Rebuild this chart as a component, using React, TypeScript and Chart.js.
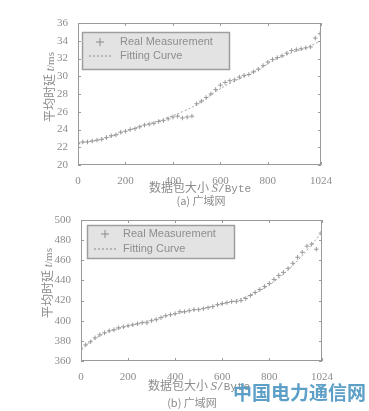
import React, { useEffect, useRef } from "react";
import { Chart, registerables } from "chart.js";

Chart.register(...registerables);

// ---------- data ----------
const xTickValues = [0, 200, 400, 600, 800, 1024];

const aYTickMin = 20;
const aYTickMax = 36;
const aYTickStep = 2;

const bYTickMin = 360;
const bYTickMax = 500;
const bYTickStep = 20;

const measSizes = [
  0, 20, 40, 60, 80, 100, 120, 140, 160, 180, 200, 220, 240, 260, 280, 300, 320, 340,
  360, 380, 400, 420, 440, 460, 480, 500, 520, 540, 560, 580, 600, 620, 640, 660, 680,
  700, 720, 740, 760, 780, 800, 820, 840, 860, 880, 900, 920, 940, 960, 980, 1000, 1020,
];

const aMeasured = [
  22.4, 22.6, 22.6, 22.7, 22.8, 22.9, 23.1, 23.3, 23.4, 23.7, 23.8, 24.0, 24.1, 24.3,
  24.5, 24.6, 24.7, 24.9, 25.0, 25.2, 25.4, 25.5, 25.3, 25.4, 25.5, 26.9, 27.2, 27.6,
  28.0, 28.5, 29.0, 29.3, 29.5, 29.6, 29.9, 30.1, 30.2, 30.5, 30.8, 31.2, 31.6, 31.9,
  32.1, 32.3, 32.6, 32.9, 33.0, 33.1, 33.2, 33.3, 34.3, 34.8,
];

const bMeasured = [
  372, 376, 379, 383, 386, 388, 390, 391, 393, 394, 395, 396, 397, 398, 398, 400, 401,
  403, 405, 406, 407, 409, 409, 410, 411, 411, 412, 413, 414, 416, 417, 418, 419, 419,
  420, 422, 425, 428, 431, 434, 437, 441, 445, 448, 452, 457, 463, 468, 474, 476, 471, 487,
];

const fitSizes = [0, 64, 128, 192, 256, 320, 384, 448, 512, 576, 640, 704, 768, 832, 896, 960, 1024];
const aFit = [22.5, 22.7, 23.1, 23.7, 24.3, 24.8, 25.4, 26.1, 27.0, 28.2, 29.2, 30.0, 30.9, 31.9, 32.6, 33.2, 34.0];
const bFit = [372, 383, 390, 394, 398, 402, 406, 409, 412, 415, 419, 424, 431, 441, 454, 470, 488];

const legendLabels = ["Real Measurement", "Fitting Curve"];

// ---------- styles ----------
const GRAY = "#8c8c8c";
const AXIS = "#9a9a9a";
const SERIF = "'Liberation Serif', 'DejaVu Serif', serif";
const SANS = "'Liberation Sans', Arial, sans-serif";
const CJK = "'Noto Sans CJK SC', sans-serif";

const framePlugin = {
  id: "matlabFrame",
  afterDatasetsDraw(chart: any, _args: any, opts: any) {
    const { ctx, chartArea: a, scales } = chart;
    ctx.save();
    ctx.strokeStyle = AXIS;
    ctx.lineWidth = 1;
    ctx.strokeRect(Math.round(a.left) + 0.5, Math.round(a.top) + 0.5, Math.round(a.width) - 1, Math.round(a.height) - 1);
    ctx.beginPath();
    scales.x.ticks.forEach((t: any) => {
      const px = Math.round(scales.x.getPixelForValue(t.value)) + 0.5;
      ctx.moveTo(px, a.bottom);
      ctx.lineTo(px, a.bottom - 3);
      ctx.moveTo(px, a.top);
      ctx.lineTo(px, a.top + 3);
    });
    scales.y.ticks.forEach((t: any) => {
      const py = Math.round(scales.y.getPixelForValue(t.value)) + 0.5;
      ctx.moveTo(a.left, py);
      ctx.lineTo(a.left + 3, py);
      ctx.moveTo(a.right, py);
      ctx.lineTo(a.right - 3, py);
    });
    ctx.stroke();

    // legend box
    const lx = a.left + opts.dx;
    const ly = a.top + opts.dy;
    ctx.fillStyle = "#e3e3e3";
    ctx.fillRect(lx, ly, opts.w, opts.h);
    ctx.strokeStyle = "#9e9e9e";
    ctx.lineWidth = 1.5;
    ctx.strokeRect(lx + 0.5, ly + 0.5, opts.w - 1, opts.h - 1);
    const ds = chart.data.datasets;
    const r1 = ly + opts.row1;
    const r2 = ly + opts.row2;
    ctx.strokeStyle = "#8a8a8a";
    ctx.lineWidth = 1;
    ctx.beginPath();
    const mx = lx + 18;
    ctx.moveTo(mx - 4, r1);
    ctx.lineTo(mx + 4, r1);
    ctx.moveTo(mx, r1 - 4);
    ctx.lineTo(mx, r1 + 4);
    ctx.stroke();
    ctx.setLineDash([2, 2]);
    ctx.beginPath();
    ctx.moveTo(lx + 7, r2);
    ctx.lineTo(lx + 30, r2);
    ctx.stroke();
    ctx.setLineDash([]);
    ctx.fillStyle = "#8e8e8e";
    ctx.font = `11px ${SANS}`;
    ctx.textBaseline = "middle";
    ctx.fillText(ds[0].label, lx + opts.tx, r1);
    ctx.fillText(ds[1].label, lx + opts.tx, r2);
    ctx.restore();
  },
};

function makeConfig(
  measured: number[],
  fit: number[],
  yMin: number,
  yMax: number,
  yStep: number,
  padding: any,
  legendOpts: any
): any {
  return {
    type: "scatter",
    data: {
      datasets: [
        {
          label: legendLabels[0],
          data: measSizes.map((s, i) => ({ x: s, y: measured[i] })),
          showLine: false,
          pointStyle: "cross",
          pointRadius: 2.3,
          borderColor: "#9a9a9a",
          borderWidth: 1,
        },
        {
          label: legendLabels[1],
          data: fitSizes.map((s, i) => ({ x: s, y: fit[i] })),
          showLine: true,
          pointRadius: 0,
          borderColor: "#a2a2a2",
          borderWidth: 1,
          borderDash: [2, 2],
          tension: 0.4,
        },
      ],
    },
    options: {
      animation: false,
      responsive: false,
      devicePixelRatio: 1,
      layout: { padding },
      plugins: {
        legend: { display: false },
        tooltip: { enabled: false },
        matlabFrame: legendOpts,
      },
      scales: {
        x: {
          type: "linear",
          min: 0,
          max: 1024,
          afterBuildTicks: (s: any) => {
            s.ticks = xTickValues.map((v) => ({ value: v }));
          },
          afterFit: (s: any) => {
            s.height = 20;
          },
          grid: { display: false },
          border: { display: false },
          ticks: {
            color: GRAY,
            font: { family: SERIF, size: 11 },
            padding: 2,
            maxRotation: 0,
            autoSkip: false,
            callback: (v: any) => String(v),
          },
        },
        y: {
          type: "linear",
          min: yMin,
          max: yMax,
          afterFit: (s: any) => {
            s.width = 30;
          },
          grid: { display: false },
          border: { display: false },
          ticks: {
            stepSize: yStep,
            color: GRAY,
            font: { family: SERIF, size: 11 },
            padding: 2,
            callback: (v: any) => String(v),
          },
        },
      },
    },
    plugins: [framePlugin],
  };
}

function ChartCanvas({ config, width, height, top }: any) {
  const ref = useRef<HTMLCanvasElement | null>(null);
  useEffect(() => {
    if (!ref.current) return;
    const c = new Chart(ref.current, config);
    return () => c.destroy();
  }, []);
  return (
    <canvas
      ref={ref}
      width={width}
      height={height}
      style={{ position: "absolute", left: 0, top, width, height }}
    />
  );
}

function XTitle({ cx, cy }: any) {
  return (
    <div
      style={{
        position: "absolute",
        left: cx - 100,
        top: cy - 9,
        width: 200,
        height: 18,
        lineHeight: "18px",
        textAlign: "center",
        color: GRAY,
        fontSize: 12,
        fontFamily: CJK,
        whiteSpace: "nowrap",
      }}
    >
      数据包大小 <span style={{ fontFamily: SERIF, fontStyle: "italic", fontSize: 13 }}>S</span>
      <span style={{ fontFamily: "'Liberation Mono', monospace", fontSize: 11 }}>/Byte</span>
    </div>
  );
}

function YTitle({ cx, cy }: any) {
  return (
    <div
      style={{
        position: "absolute",
        left: cx - 60,
        top: cy - 9,
        width: 120,
        height: 18,
        lineHeight: "18px",
        textAlign: "center",
        color: GRAY,
        fontSize: 12,
        fontFamily: CJK,
        whiteSpace: "nowrap",
        transform: "rotate(-90deg)",
      }}
    >
      平均时延 <span style={{ fontFamily: SERIF, fontStyle: "italic" }}>t</span>
      <span style={{ fontFamily: SERIF, fontSize: 11 }}>/ms</span>
    </div>
  );
}

function Caption({ cx, cy, text }: any) {
  return (
    <div
      style={{
        position: "absolute",
        left: cx - 60,
        top: cy - 8,
        width: 120,
        height: 16,
        lineHeight: "16px",
        textAlign: "center",
        color: GRAY,
        fontSize: 11,
        fontFamily: CJK,
        whiteSpace: "nowrap",
      }}
    >
      {text}
    </div>
  );
}

export default function App() {
  const configA = makeConfig(
    aMeasured,
    aFit,
    aYTickMin,
    aYTickMax,
    aYTickStep,
    { left: 48, right: 48, top: 23, bottom: 15 },
    { dx: 4, dy: 9, w: 148, h: 38, row1: 10, row2: 24, tx: 38 }
  );
  const configB = makeConfig(
    bMeasured,
    bFit,
    bYTickMin,
    bYTickMax,
    bYTickStep,
    { left: 51, right: 47, top: 20, bottom: 30 },
    { dx: 6, dy: 5, w: 148, h: 34, row1: 9, row2: 24, tx: 36 }
  );
  return (
    <div
      style={{
        position: "absolute",
        left: 0,
        top: 0,
        width: 369,
        height: 411,
        background: "#ffffff",
        overflow: "hidden",
      }}
    >
      <ChartCanvas config={configA} width={369} height={200} top={0} />
      <ChartCanvas config={configB} width={369} height={211} top={200} />
      <YTitle cx={49} cy={87} />
      <YTitle cx={47} cy={283} />
      <XTitle cx={200} cy={187} />
      <XTitle cx={199} cy={385} />
      <Caption cx={201} cy={200} text="(a) 广域网" />
      <Caption cx={192} cy={402} text="(b) 广域网" />
      <div
        style={{
          position: "absolute",
          left: 233,
          top: 381,
          height: 22,
          lineHeight: "22px",
          fontSize: 19,
          fontWeight: 700,
          fontFamily: CJK,
          color: "#5d9fc6",
          whiteSpace: "nowrap",
        }}
      >
        中国电力通信网
      </div>
    </div>
  );
}
